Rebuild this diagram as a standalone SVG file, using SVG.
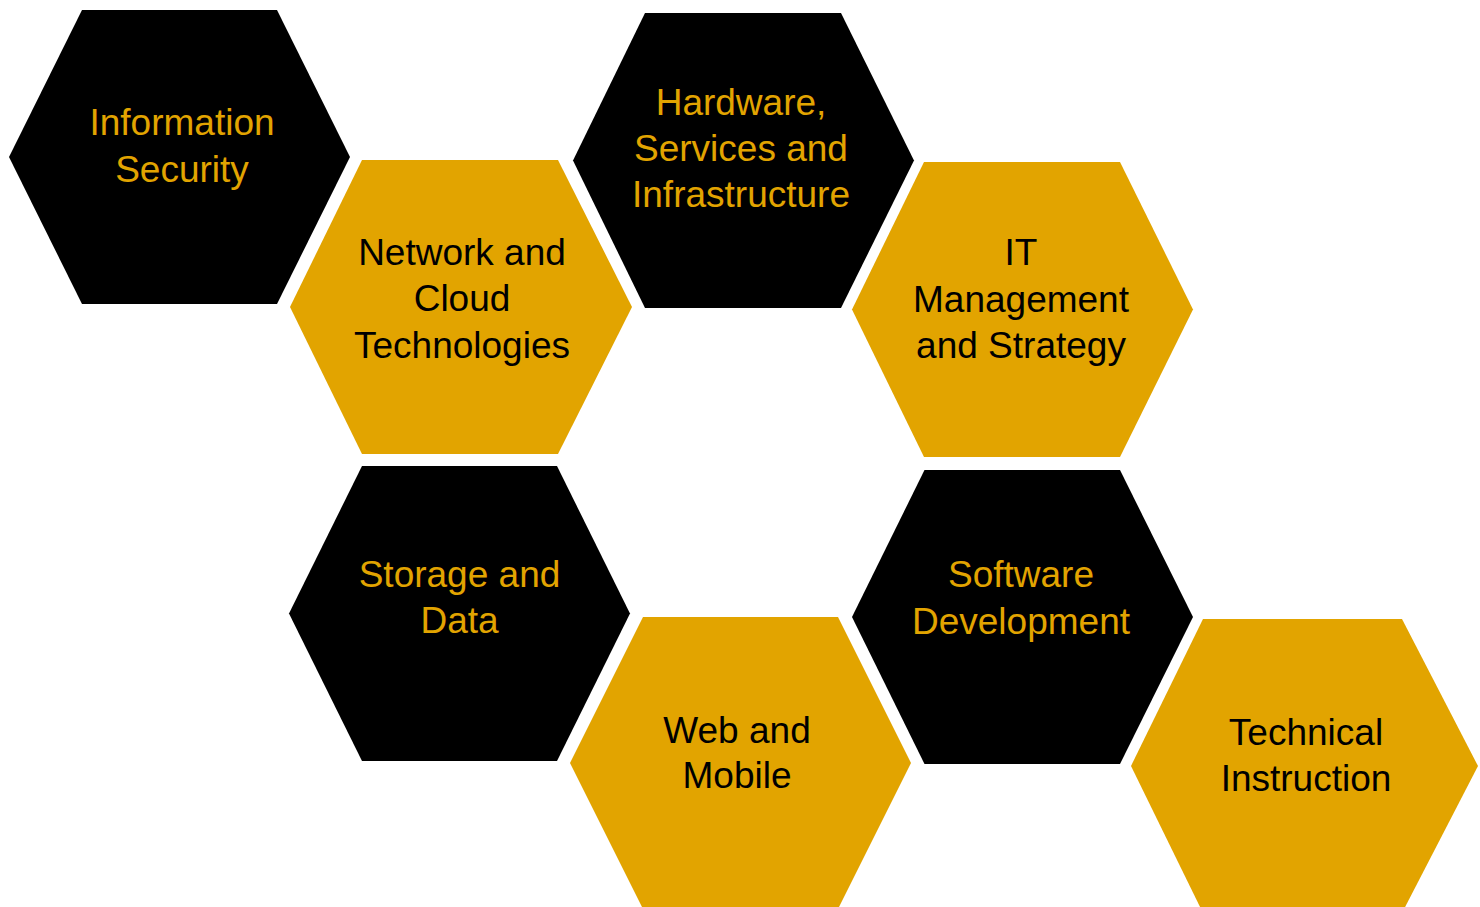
<svg xmlns="http://www.w3.org/2000/svg" width="1480" height="907" viewBox="0 0 1480 907">
<style>
.dark{fill:#000000}
.gold{fill:#E2A400}
text{font-family:"Liberation Sans",Arial,sans-serif;font-size:37px;text-anchor:middle}
.tg{fill:#E2A400}
.tb{fill:#000000}
</style>
<rect width="1480" height="907" fill="#FFFFFF"/>
<g id="connectors"/>
<g id="node-information-security">
<polygon class="dark" points="9,157 82,10 277,10 350,157 277,304 82,304"/>
<text class="tg" x="182" y="135">Information</text>
<text class="tg" x="182" y="182">Security</text>
</g>
<g id="node-network-cloud">
<polygon class="gold" points="290,307 362,160 558,160 632,307 558,454 362,454"/>
<text class="tb" x="462" y="265">Network and</text>
<text class="tb" x="462" y="311">Cloud</text>
<text class="tb" x="462" y="358">Technologies</text>
</g>
<g id="node-hardware">
<polygon class="dark" points="573,160.5 645,13 841,13 914,160.5 841,308 645,308"/>
<text class="tg" x="741" y="115">Hardware,</text>
<text class="tg" x="741" y="161">Services and</text>
<text class="tg" x="741" y="207">Infrastructure</text>
</g>
<g id="node-it-management">
<polygon class="gold" points="852,309.5 924,162 1120,162 1193,309.5 1120,457 924,457"/>
<text class="tb" x="1021" y="265">IT</text>
<text class="tb" x="1021" y="312">Management</text>
<text class="tb" x="1021" y="358">and Strategy</text>
</g>
<g id="node-storage-data">
<polygon class="dark" points="289,613.5 362,466 557,466 630,613.5 557,761 362,761"/>
<text class="tg" x="459.5" y="587">Storage and</text>
<text class="tg" x="459.5" y="633">Data</text>
</g>
<g id="node-web-mobile">
<polygon class="gold" points="570,763 643,617 838,617 911,763 838,909 643,909"/>
<text class="tb" x="737" y="743">Web and</text>
<text class="tb" x="737" y="788">Mobile</text>
</g>
<g id="node-software-development">
<polygon class="dark" points="852,617 924.5,470 1120,470 1193,617 1120,764 924.5,764"/>
<text class="tg" x="1021" y="587">Software</text>
<text class="tg" x="1021" y="634">Development</text>
</g>
<g id="node-technical-instruction">
<polygon class="gold" points="1131,766 1203,619 1402,619 1478,766 1402,913 1203,913"/>
<text class="tb" x="1306" y="744.5">Technical</text>
<text class="tb" x="1306" y="791">Instruction</text>
</g>
</svg>
